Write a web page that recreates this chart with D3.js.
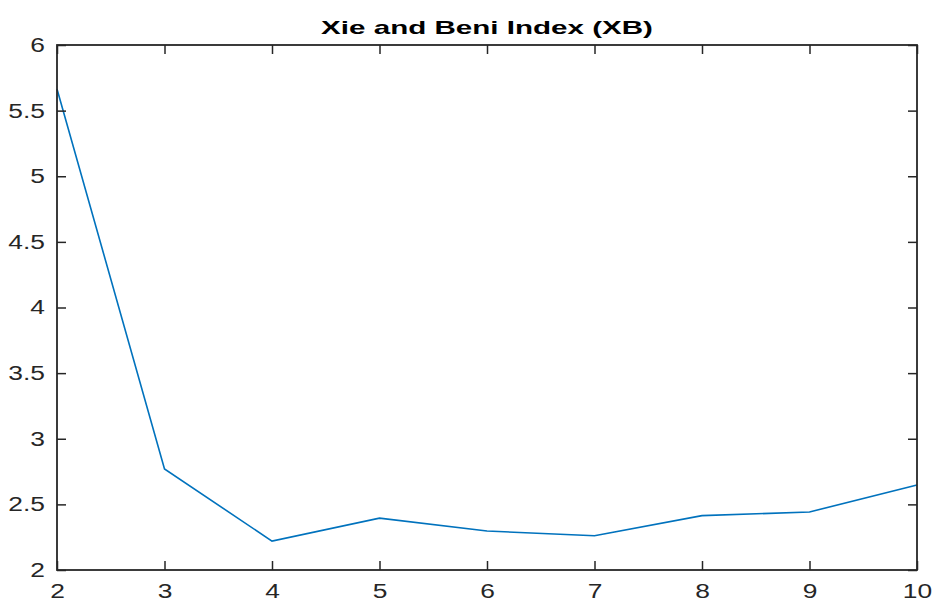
<!DOCTYPE html>
<html>
    <head>
        <meta charset="utf-8">
        <title>Xie and Beni Index (XB)</title>
        <script src="https://cdnjs.cloudflare.com/ajax/libs/d3/7.8.5/d3.min.js"></script>
        <style>
            body { margin: 0; background: #fff; }
            text { font-family: "Liberation Sans", Arial, sans-serif; fill: #262626; }
        </style>
    </head>
    <body>
        <script type="text/javascript">

            // Data
            var clusters = [2, 3, 4, 5, 6, 7, 8, 9, 10];
            var xbValues = [5.665, 2.77, 2.22, 2.395, 2.297, 2.261, 2.414, 2.442, 2.648];
            var xTicks = [2, 3, 4, 5, 6, 7, 8, 9, 10];
            var yTicks = [2, 2.5, 3, 3.5, 4, 4.5, 5, 5.5, 6];

            var svg_width = 933;
            var svg_height = 601;
            var plotLeft = 57, plotRight = 917, plotTop = 45, plotBottom = 570;
            var tickLen = 9;
            var stretch = 1.32;   // the reference text is wider than it is tall

            var svg = d3.select("body")
                      .append("svg")
                      .attr("width", svg_width)
                      .attr("height", svg_height);

            var xScale = d3.scaleLinear().domain([2, 10]).range([plotLeft, plotRight]);
            var yScale = d3.scaleLinear().domain([2, 6]).range([plotBottom, plotTop]);

            // Line
            var line = d3.line()
                         .x(function(d, i) { return xScale(clusters[i]); })
                         .y(function(d) { return yScale(d); });

            svg.append("path")
               .datum(xbValues)
               .attr("d", line)
               .attr("fill", "none")
               .attr("stroke", "#0072BD")
               .attr("stroke-width", 1.6);

            // Axes (ticks point inward, mirrored on top and right)
            function styleAxis(g) {
                g.select(".domain").remove();
                g.selectAll("line").attr("stroke", "#262626").attr("stroke-width", 1.5);
                g.selectAll("text")
                 .style("font-size", "20px")
                 .each(function() {
                     var t = d3.select(this);
                     var tx = +t.attr("x") || 0;
                     t.attr("x", 0).attr("transform", "translate(" + tx + ",0) scale(" + stretch + ",1)");
                 });
            }

            svg.append("g")
               .attr("transform", "translate(0," + plotBottom + ")")
               .call(d3.axisBottom(xScale).tickValues(xTicks).tickSize(-tickLen).tickPadding(14).tickFormat(d3.format("d")))
               .call(styleAxis);

            svg.append("g")
               .attr("transform", "translate(0," + plotTop + ")")
               .call(d3.axisTop(xScale).tickValues(xTicks).tickSize(-tickLen).tickFormat(""))
               .call(styleAxis);

            svg.append("g")
               .attr("transform", "translate(" + plotLeft + ",0)")
               .call(d3.axisLeft(yScale).tickValues(yTicks).tickSize(-tickLen).tickPadding(12).tickFormat(d3.format("")))
               .call(styleAxis);

            svg.append("g")
               .attr("transform", "translate(" + plotRight + ",0)")
               .call(d3.axisRight(yScale).tickValues(yTicks).tickSize(-tickLen).tickFormat(""))
               .call(styleAxis);

            // Box
            svg.append("rect")
               .attr("x", plotLeft)
               .attr("y", plotTop)
               .attr("width", plotRight - plotLeft)
               .attr("height", plotBottom - plotTop)
               .attr("fill", "none")
               .attr("stroke", "#262626")
               .attr("stroke-width", 1.8);

            // Title, stretched sideways to the width it has in the reference
            var title = svg.append("text")
               .attr("x", 0)
               .attr("y", 0)
               .attr("text-anchor", "middle")
               .style("font-size", "19px")
               .style("font-weight", "bold")
               .style("fill", "#000")
               .text("Xie and Beni Index (XB)");
            var titleScale = 332 / title.node().getComputedTextLength();
            title.attr("transform", "translate(" + ((plotLeft + plotRight) / 2) + ",34) scale(" + titleScale + ",1)");

        </script>
    </body>
</html>
